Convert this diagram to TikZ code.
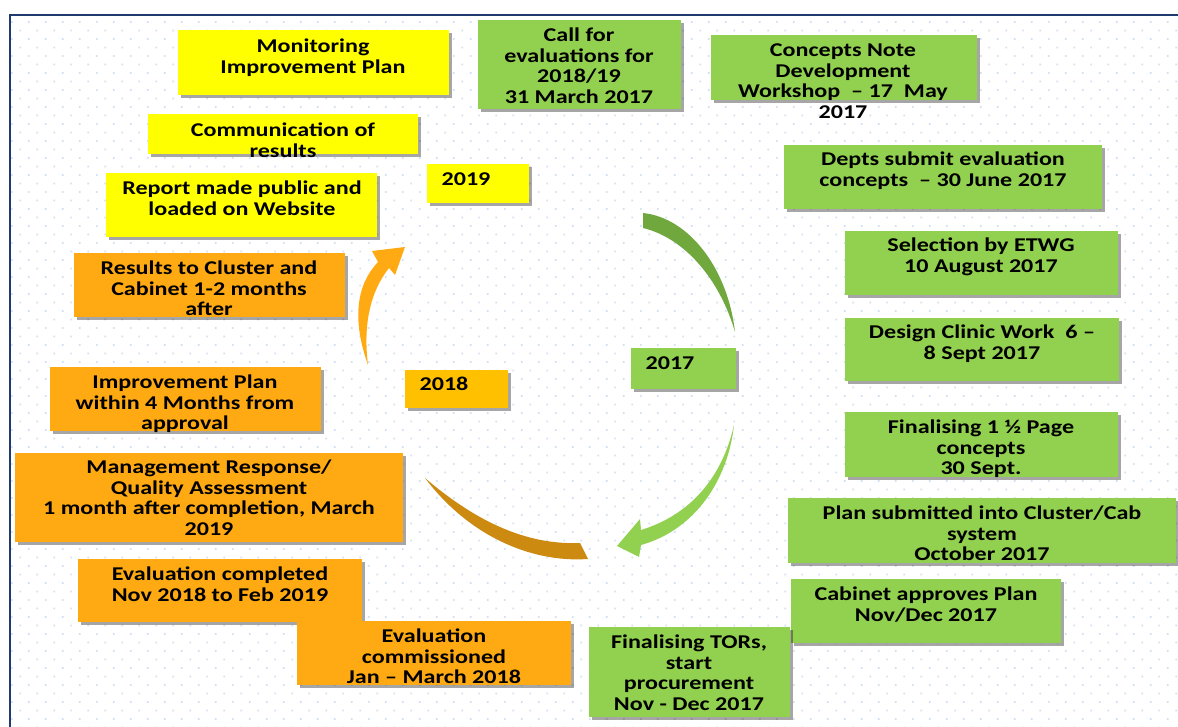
\documentclass[tikz,border=0pt]{standalone}
\usepackage{fontspec}
\setmainfont{Carlito}[FakeStretch=1.235]
\usetikzlibrary{shadows}
\definecolor{ylw}{HTML}{FFFF00}
\definecolor{grn}{HTML}{92D050}
\definecolor{org}{HTML}{FFAA12}
\definecolor{yr18}{HTML}{FFC000}
\definecolor{dgrn}{HTML}{70A83E}
\definecolor{dorg}{HTML}{CC8A10}
\definecolor{frm}{HTML}{1F3A6E}
\definecolor{dotc}{HTML}{D2E2F4}
\tikzset{
  boxsty/.style={draw=none, inner sep=0pt, outer sep=0pt,
    drop shadow={shadow xshift=3pt, shadow yshift=-3pt, fill=black, opacity=0.35}},
  txtsty/.style={inner sep=0pt, align=center,
    font=\fontsize{19.5}{20.4}\selectfont\bfseries, text=black},
}
% #1 name, #2 x1, #3 y1, #4 x2, #5 y2, #6 fill, #7 text x, #8 first line y, #9 text
\newcommand\tbox[9]{%
  \node[boxsty, fill=#6, minimum width={(#4-#2)*1pt}, minimum height={(#5-#3)*1pt}]
    (#1) at ({(#2+#4)/2},{(#3+#5)/2}) {};
  \node[txtsty, anchor=north] (#1-t) at (#7,{#8-7}) {#9};
}
\begin{document}
\begin{tikzpicture}[x=1pt,y=-1pt]
\useasboundingbox (0,0) rectangle (1178,727);
\fill[white] (0,0) rectangle (1178,727);
% dotted background
\begin{scope}
\clip (11,16) rectangle (1178,727);
\fill[dotc] foreach \r [evaluate=\r as \yy using {22+8.5*\r}, evaluate=\r as \off using {mod(\r,2)*8.5}] in {-1,...,84} {
  foreach \c in {0,...,70} { ({11.7+17*\c-\off-0.9},{\yy-0.9}) rectangle ++(1.8,1.8) } };
\end{scope}
% frame
\draw[frm, line width=2.2pt] (10,15) rectangle (1200,760);
% circular arrows
\fill[dgrn] (643,213) .. controls (690,218) and (728,270) .. (735,332)
  .. controls (720,280) and (685,238) .. (643,228) -- cycle;
\fill[grn] (734,425) .. controls (722,478) and (690,515) .. (641,530)
  -- (640,519) -- (617,546) -- (639,557) -- (641,545)
  .. controls (695,530) and (728,480) .. (734,425) -- cycle;
\fill[dorg] (425,478) .. controls (480,525) and (530,545) .. (580,543)
  -- (588,559) .. controls (530,563) and (468,535) .. (425,478) -- cycle;
\fill[org] (368,365) .. controls (352,320) and (356,285) .. (378,262)
  -- (372,251) -- (405,247) -- (395,275) -- (389,268)
  .. controls (370,292) and (363,325) .. (368,365) -- cycle;
% boxes
\tbox{mip}{178}{30}{449}{95}{ylw}{313}{46}{Monitoring\\Improvement Plan}
\tbox{call}{478}{20}{681}{109}{grn}{579}{35}{Call for\\evaluations for\\2018/19\\31 March 2017}
\tbox{cnd}{711}{35}{977}{100}{grn}{843}{51}{Concepts Note\\Development\\Workshop \ -- 17 \ May\\2017}
\tbox{com}{148}{114}{418}{154}{ylw}{283}{130}{Communication of\\results}
\tbox{y19}{427}{164}{529}{203}{ylw}{466}{180}{2019}
\tbox{rep}{106}{173}{377}{237}{ylw}{242}{188}{Report made public and\\loaded on Website}
\tbox{dep}{784}{145}{1102}{209}{grn}{943}{159}{Depts submit evaluation\\concepts \ -- 30 June 2017}
\tbox{sel}{845}{231}{1118}{295}{grn}{981}{245}{Selection by ETWG\\10 August 2017}
\tbox{res}{74}{253}{345}{317}{org}{209}{268}{Results to Cluster and\\Cabinet 1-2 months\\after}
\tbox{dcw}{845}{318}{1119}{381}{grn}{982}{332}{Design Clinic Work \ 6 --\\8 Sept 2017}
\tbox{y17}{631}{348}{736}{389}{grn}{670}{364}{2017}
\tbox{imp}{50}{367}{321}{431}{org}{185}{382}{Improvement Plan\\within 4 Months from\\approval}
\tbox{y18}{405}{370}{508}{408}{yr18}{444}{384}{2018}
\tbox{fin}{845}{412}{1118}{477}{grn}{981}{427}{Finalising 1 ½ Page\\concepts\\30 Sept.}
\tbox{mgt}{15}{453}{403}{542}{org}{209}{467}{Management Response/\\Quality Assessment\\1 month after completion, March\\2019}
\tbox{pln}{788}{498}{1176}{563}{grn}{982}{513}{Plan submitted into Cluster/Cab\\system\\October 2017}
\tbox{ecp}{78}{559}{362}{622}{org}{220}{574}{Evaluation completed\\Nov 2018 to Feb 2019}
\tbox{cab}{791}{579}{1061}{643}{grn}{926}{594}{Cabinet approves Plan\\Nov/Dec 2017}
\tbox{ecm}{297}{621}{571}{685}{org}{434}{636}{Evaluation\\commissioned\\Jan -- March 2018}
\tbox{tor}{589}{627}{790}{717}{grn}{689}{642}{Finalising TORs,\\start\\procurement\\Nov - Dec 2017}
\end{tikzpicture}
\end{document}
